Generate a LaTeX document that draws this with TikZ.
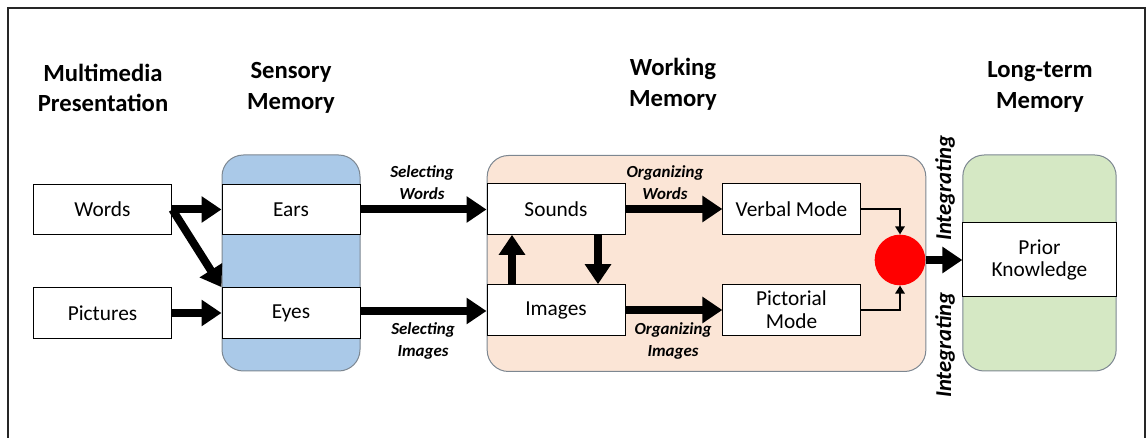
\documentclass[tikz,border=0pt]{standalone}
\usepackage{fontspec}
\setmainfont{Carlito}
\usetikzlibrary{arrows.meta}
\definecolor{sensblue}{RGB}{170,201,232}
\definecolor{workpeach}{RGB}{251,229,214}
\definecolor{longgreen}{RGB}{213,232,196}
\definecolor{paneline}{RGB}{125,135,145}
\tikzset{
	box/.style={draw, fill=white, line width=0.75pt, minimum width=104pt, minimum height=38pt, inner sep=0pt, align=center, font=\fontsize{16}{19}\selectfont},
	pane/.style={draw=paneline, line width=0.75pt, rounded corners=16pt, minimum height=162pt, inner sep=0pt},
	title/.style={align=center, font=\fontsize{18.5}{23}\selectfont\bfseries},
	steplabel/.style={align=center, font=\fontsize{12.7}{16}\selectfont\bfseries\itshape},
	intlabel/.style={rotate=90, font=\fontsize{17}{20}\selectfont\bfseries\itshape},
	bigarrow/.style={line width=6pt, -{Triangle[length=15pt,width=19pt]}},
	thinarrow/.style={line width=1.5pt, -{Triangle[length=6pt,width=7pt]}}
}
\begin{document}
\begin{tikzpicture}[x=0.75pt,y=-0.75pt]
		\useasboundingbox (0,0) rectangle (1147,438);
		\draw[line width=1.5pt, black!85] (8,450) -- (8,8) -- (1145,8) -- (1145,450);
		
		% column titles
		\node (t1) [title] at (103,88) {Multimedia\\Presentation};
		\node (t2) [title] at (291,88) {Sensory\\Memory};
		\node (t3) [title] at (673,84) {Working\\Memory};
		\node (t4) [title] at (1040,87) {Long-term\\Memory};
		
		% memory panes
		\node (sens) [pane, fill=sensblue, minimum width=103.5pt] at (291,263) {};
		\node (work) [pane, fill=workpeach, minimum width=329pt] at (706.5,263.5) {};
		\node (long) [pane, fill=longgreen, minimum width=115pt] at (1039.5,263) {};
		
		\node (wrd) [box] at (102.5,209.5) {Words};
		\node (pic) [box] at (102.5,313) {Pictures};
		\node (ear) [box, minimum width=103.5pt] at (291,209.5) {Ears};
		\node (eye) [box, minimum width=103.5pt] at (291,313) {Eyes};
		\node (snd) [box, minimum width=103.5pt] at (556,209) {Sounds};
		\node (img) [box, minimum width=103.5pt] at (556,310) {Images};
		\node (vrb) [box, minimum width=103pt] at (791.5,209) {Verbal Mode};
		\node (pct) [box, minimum width=103pt] at (791.5,310) {Pictorial\\[-2pt]Mode};
		\node (dot) [circle, fill=red, minimum size=38pt, inner sep=0pt] at (900,260) {};
		\node (pri) [box, minimum width=115pt, minimum height=55.5pt] at (1039.5,260) {Prior\\[-2pt]Knowledge};
		
		\node (sw) [steplabel] at (422,182.5) {Selecting\\Words};
		\node (si) [steplabel] at (423,341) {Selecting\\Images};
		\node (ow) [steplabel] at (665,182.5) {Organizing\\Words};
		\node (oi) [steplabel] at (673,341) {Organizing\\Images};
		\node (ig1) [intlabel] at (945,188) {Integrating};
		\node (ig2) [intlabel] at (945,345) {Integrating};
		
		\draw[bigarrow] (wrd.east) -> (ear.west);
		\draw[bigarrow] (wrd.east) -> (eye.north west);
		\draw[bigarrow] (pic.east) -> (eye.west);
		\draw[bigarrow] (ear.east) -> (ear.east -| snd.west);
		\draw[bigarrow] (eye.east |- 0,311) -> (img.west |- 0,311);
		\draw[bigarrow] (snd.east) -> (vrb.west);
		\draw[bigarrow] (img.east) -> (pct.west);
		\draw[bigarrow] (img.north -| 512,0) -> (snd.south -| 512,0);
		\draw[bigarrow] (snd.south -| 598,0) -> (img.north -| 598,0);
		\draw[thinarrow] (vrb.east) -| (dot.north);
		\draw[thinarrow] (pct.east) -| (dot.south);
		\draw[bigarrow] (dot.east) -> (pri.west);
		\end{tikzpicture}
\end{document}
